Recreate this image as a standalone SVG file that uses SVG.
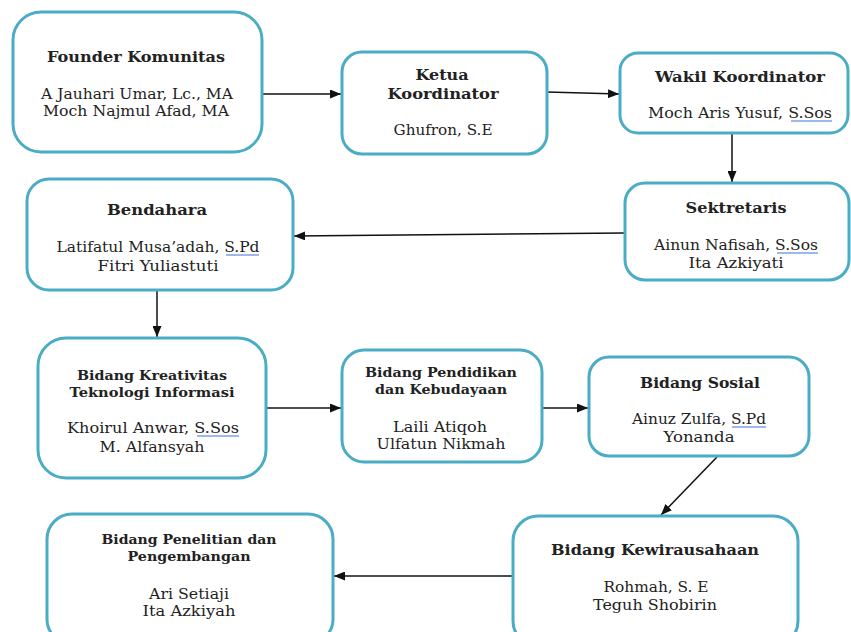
<svg xmlns="http://www.w3.org/2000/svg" width="851" height="632" viewBox="0 0 851 632">
<style>
.box{fill:#ffffff;stroke:#4bacc6;stroke-width:3}
.t{font-family:"DejaVu Serif","Liberation Serif",serif;font-size:15px;fill:#222;text-anchor:middle}
.b{font-weight:bold}
.s{font-size:13px}
.c{stroke:#111;stroke-width:1.5;fill:none;marker-end:url(#ah)}
.u{stroke:#7da2e6;stroke-width:2;opacity:0.75}
</style>
<defs>
<marker id="ah" markerUnits="userSpaceOnUse" markerWidth="11" markerHeight="9" refX="11" refY="4.5" orient="auto">
<path d="M0,0 L11,4.5 L0,9 z" fill="#111"/>
</marker>
</defs>
<rect width="851" height="632" fill="#ffffff"/>
<g id="connectors">
<line class="c" x1="262" y1="94" x2="341" y2="94"/>
<line class="c" x1="547" y1="92" x2="619" y2="94"/>
<line class="c" x1="732" y1="134" x2="732" y2="182"/>
<line class="c" x1="625" y1="233" x2="294" y2="236"/>
<line class="c" x1="157" y1="291" x2="157" y2="337"/>
<line class="c" x1="266" y1="408" x2="341" y2="408"/>
<line class="c" x1="542" y1="408" x2="588" y2="408"/>
<line class="c" x1="717" y1="457" x2="661" y2="515"/>
<line class="c" x1="513" y1="576" x2="334" y2="576"/>
</g>
<g id="founder">
<rect class="box" x="13" y="12" width="249" height="140" rx="28"/>
<text class="t b" x="136" y="62" textLength="178" lengthAdjust="spacingAndGlyphs">Founder Komunitas</text>
<text class="t" x="137" y="99" textLength="192" lengthAdjust="spacingAndGlyphs">A Jauhari Umar, Lc., MA</text>
<text class="t" x="136" y="116" textLength="186" lengthAdjust="spacingAndGlyphs">Moch Najmul Afad, MA</text>
</g>
<g id="ketua">
<rect class="box" x="342" y="52" width="205" height="102" rx="20"/>
<text class="t b" x="442" y="80" textLength="53" lengthAdjust="spacingAndGlyphs">Ketua</text>
<text class="t b" x="443" y="99" textLength="111" lengthAdjust="spacingAndGlyphs">Koordinator</text>
<text class="t" x="443" y="135" textLength="99" lengthAdjust="spacingAndGlyphs">Ghufron, S.E</text>
</g>
<g id="wakil">
<rect class="box" x="620" y="53" width="228" height="80" rx="18"/>
<text class="t b" x="740" y="82" textLength="170" lengthAdjust="spacingAndGlyphs">Wakil Koordinator</text>
<text class="t" x="740" y="118" textLength="184" lengthAdjust="spacingAndGlyphs">Moch Aris Yusuf, S.Sos</text>
<line class="u" x1="791" y1="121" x2="832" y2="121"/>
</g>
<g id="sektretaris">
<rect class="box" x="625" y="183" width="224" height="97" rx="20"/>
<text class="t b" x="736" y="213" textLength="101" lengthAdjust="spacingAndGlyphs">Sektretaris</text>
<text class="t" x="736" y="250" textLength="164" lengthAdjust="spacingAndGlyphs">Ainun Nafisah, S.Sos</text>
<text class="t" x="736" y="268" textLength="95" lengthAdjust="spacingAndGlyphs">Ita Azkiyati</text>
<line class="u" x1="777" y1="253" x2="818" y2="253"/>
</g>
<g id="bendahara">
<rect class="box" x="27" y="179" width="266" height="111" rx="22"/>
<text class="t b" x="157" y="215" textLength="100" lengthAdjust="spacingAndGlyphs">Bendahara</text>
<text class="t" x="158" y="252" textLength="203" lengthAdjust="spacingAndGlyphs">Latifatul Musa’adah, S.Pd</text>
<text class="t" x="158" y="271" textLength="121" lengthAdjust="spacingAndGlyphs">Fitri Yuliastuti</text>
<line class="u" x1="226" y1="255" x2="259" y2="255"/>
</g>
<g id="kreativitas">
<rect class="box" x="38" y="338" width="228" height="140" rx="28"/>
<text class="t b s" x="152" y="380" textLength="150" lengthAdjust="spacingAndGlyphs">Bidang Kreativitas</text>
<text class="t b s" x="152" y="397" textLength="165" lengthAdjust="spacingAndGlyphs">Teknologi Informasi</text>
<text class="t" x="153" y="433" textLength="172" lengthAdjust="spacingAndGlyphs">Khoirul Anwar, S.Sos</text>
<text class="t" x="152" y="452" textLength="105" lengthAdjust="spacingAndGlyphs">M. Alfansyah</text>
<line class="u" x1="197" y1="436" x2="239" y2="436"/>
</g>
<g id="pendidikan">
<rect class="box" x="342" y="350" width="200" height="112" rx="22"/>
<text class="t b s" x="441" y="377" textLength="152" lengthAdjust="spacingAndGlyphs">Bidang Pendidikan</text>
<text class="t b s" x="441" y="394" textLength="132" lengthAdjust="spacingAndGlyphs">dan Kebudayaan</text>
<text class="t" x="440" y="432" textLength="94" lengthAdjust="spacingAndGlyphs">Laili Atiqoh</text>
<text class="t" x="441" y="449" textLength="129" lengthAdjust="spacingAndGlyphs">Ulfatun Nikmah</text>
</g>
<g id="sosial">
<rect class="box" x="589" y="357" width="220" height="99" rx="20"/>
<text class="t b" x="700" y="388" textLength="120" lengthAdjust="spacingAndGlyphs">Bidang Sosial</text>
<text class="t" x="699" y="424" textLength="134" lengthAdjust="spacingAndGlyphs">Ainuz Zulfa, S.Pd</text>
<text class="t" x="699" y="442" textLength="71" lengthAdjust="spacingAndGlyphs">Yonanda</text>
<line class="u" x1="732" y1="427" x2="766" y2="427"/>
</g>
<g id="kewirausahaan">
<rect class="box" x="513" y="516" width="285" height="130" rx="25"/>
<text class="t b" x="655" y="555" textLength="208" lengthAdjust="spacingAndGlyphs">Bidang Kewirausahaan</text>
<text class="t" x="656" y="592" textLength="105" lengthAdjust="spacingAndGlyphs">Rohmah, S. E</text>
<text class="t" x="655" y="610" textLength="124" lengthAdjust="spacingAndGlyphs">Teguh Shobirin</text>
</g>
<g id="penelitian">
<rect class="box" x="47" y="514" width="286" height="130" rx="25"/>
<text class="t b s" x="189" y="544" textLength="175" lengthAdjust="spacingAndGlyphs">Bidang Penelitian dan</text>
<text class="t b s" x="189" y="561" textLength="123" lengthAdjust="spacingAndGlyphs">Pengembangan</text>
<text class="t" x="189" y="599" textLength="80" lengthAdjust="spacingAndGlyphs">Ari Setiaji</text>
<text class="t" x="189" y="616" textLength="93" lengthAdjust="spacingAndGlyphs">Ita Azkiyah</text>
</g>
</svg>
